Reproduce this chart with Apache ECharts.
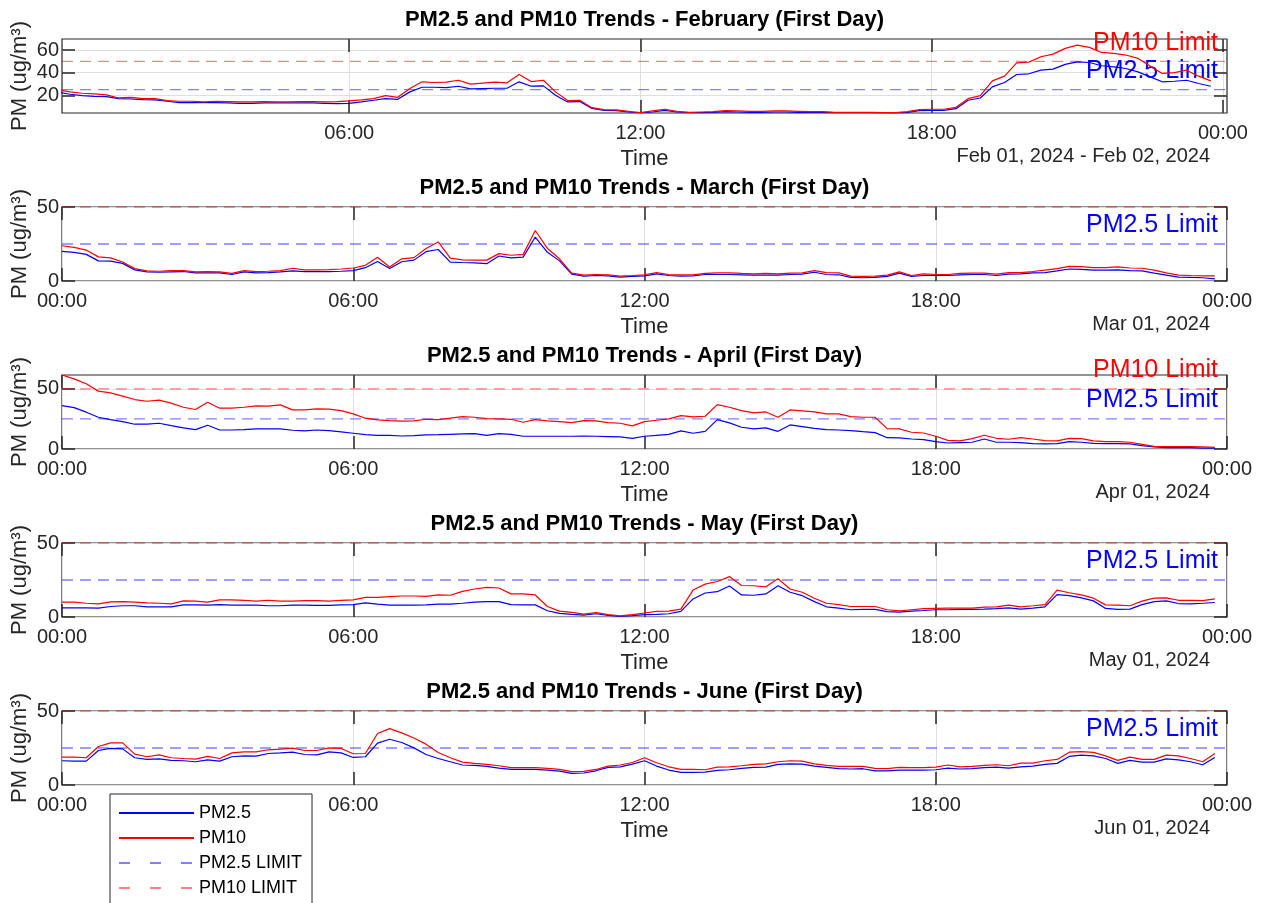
<!DOCTYPE html>
<html><head><meta charset="utf-8">
<script src="https://cdn.jsdelivr.net/npm/echarts@6/dist/echarts.min.js"></script>
<style>html,body{margin:0;padding:0;background:#fff}#c{width:1263px;height:903px}</style>
</head><body><div id="c"></div>
<script>
// sampling step of the measurements (hours): 15-minute data, 00:00 .. 23:45
const STEP_HOURS = 0.25;

const FEB_PM10 = [24.7,23.0,21.8,21.2,20.3,17.6,18.2,17.0,17.0,15.3,
 14.7,14.7,14.1,14.7,14.4,14.1,14.1,14.4,14.1,14.1,
 14.4,14.4,14.1,14.4,15.0,15.9,17.0,19.7,18.2,25.9,
 31.9,31.3,31.6,33.3,29.8,30.7,31.6,31.0,38.4,32.1,
 33.3,23.0,15.3,15.6,9.0,7.3,7.0,5.8,4.6,6.1,
 7.6,5.8,4.9,5.2,5.5,6.4,6.1,5.8,5.8,6.1,
 6.1,5.8,5.5,5.5,4.9,4.9,4.9,4.9,4.6,4.6,
 5.5,7.3,7.6,7.6,9.3,17.0,19.7,32.7,36.9,48.7,
 49.3,54.1,56.4,61.5,64.4,62.4,57.9,57.0,55.6,52.6,
 45.8,39.3,40.1,42.2,36.9,32.7];
const FEB_PM25 = [22.7,20.9,19.7,19.1,18.8,17.0,16.7,16.1,15.9,14.7,
 13.5,13.5,13.5,13.5,13.2,12.9,12.9,13.2,13.2,13.2,
 13.2,13.2,12.9,12.6,12.9,14.1,15.6,17.0,16.4,23.0,
 27.1,27.1,26.8,28.0,25.6,25.9,26.2,26.2,31.9,28.0,
 28.3,20.0,14.1,14.4,8.4,6.7,6.4,5.2,4.3,5.2,
 6.7,5.2,4.6,4.6,4.9,5.5,5.2,4.9,4.9,5.2,
 5.2,4.9,4.9,4.9,4.6,4.6,4.6,4.6,4.3,4.3,
 4.9,6.4,6.7,6.7,8.1,15.6,17.6,27.4,31.3,38.4,
 39.0,42.2,43.1,47.3,49.6,49.0,46.1,45.2,43.7,40.7,
 36.3,31.9,32.4,33.3,30.4,28.0];

const MAR_PM10 = [23.8,22.7,20.9,16.3,15.6,12.8,8.4,6.8,6.6,7.0,
 7.0,6.2,6.4,6.2,5.1,7.0,6.4,6.6,7.0,8.6,
 7.5,7.5,7.7,8.1,8.8,10.6,16.1,9.5,15.0,15.8,
 22.0,26.4,15.4,14.3,14.1,14.1,18.5,17.4,18.0,34.1,
 22.0,15.0,5.3,4.0,4.4,4.2,3.3,3.7,4.2,5.7,
 4.4,4.2,4.2,5.1,5.5,5.5,5.1,4.8,5.1,4.8,
 5.3,5.5,7.0,5.7,5.5,3.3,3.1,3.3,4.0,6.2,
 3.7,4.8,4.4,4.4,5.1,5.3,5.3,4.6,5.7,5.7,
 6.4,7.3,8.4,9.9,9.7,9.0,9.0,9.5,8.8,8.6,
 7.3,5.5,4.0,3.7,3.5,3.5];
const MAR_PM25 = [20.0,19.4,18.0,13.6,13.4,11.9,7.5,6.2,5.9,6.2,
 6.4,5.5,5.5,5.5,4.4,6.2,5.5,5.7,6.2,6.8,
 6.4,6.4,6.4,6.6,7.0,9.0,13.2,8.4,13.0,14.1,
 19.8,21.3,12.8,12.5,12.3,11.7,16.9,15.6,16.1,29.7,
 19.4,13.6,4.6,3.3,3.7,3.5,2.6,3.1,3.5,4.8,
 3.7,3.3,3.5,4.4,4.4,4.4,4.2,4.0,4.0,4.0,
 4.4,4.6,5.9,4.4,4.2,2.4,2.2,2.4,3.1,5.3,
 3.1,3.7,3.7,3.7,4.2,4.4,4.4,3.7,4.6,4.8,
 5.5,5.7,6.8,8.1,7.9,7.3,7.3,7.5,7.0,6.8,
 5.3,4.0,2.6,2.4,2.2,1.5];

const APR_PM10 = [61.5,58.3,54.2,48.1,46.7,43.9,41.1,39.7,40.6,38.1,
 34.7,32.8,38.9,33.9,33.9,34.7,35.8,35.6,36.7,32.5,
 32.5,33.3,33.1,31.9,29.2,25.6,24.2,23.6,23.1,23.3,
 24.7,24.4,25.6,26.9,26.4,25.3,25.0,24.7,22.2,24.4,
 23.3,22.8,21.9,23.6,23.3,21.9,21.4,19.2,22.8,23.9,
 25.0,27.8,26.7,27.2,36.9,34.7,31.9,30.0,30.8,26.4,
 32.5,31.7,30.8,29.2,29.2,26.9,26.4,26.4,16.9,16.7,
 13.9,13.3,10.6,7.2,6.7,8.6,11.4,8.9,8.1,9.4,
 8.3,6.9,6.7,8.9,8.6,6.7,6.1,6.1,5.6,3.9,
 2.2,1.9,1.9,1.9,1.7,1.4];
const APR_PM25 = [36.1,34.4,30.6,26.4,24.4,22.8,20.6,20.6,21.4,19.4,
 17.5,16.1,19.7,15.8,15.8,16.1,16.7,16.7,16.7,15.6,
 15.0,15.8,15.3,14.2,13.1,11.9,11.4,11.4,10.8,11.1,
 11.7,11.9,12.2,12.5,12.8,11.4,12.8,12.2,10.6,10.6,
 10.6,10.6,10.6,10.8,10.6,10.3,10.0,8.9,10.6,11.4,
 12.2,15.0,13.1,14.7,24.4,21.7,18.1,16.7,17.5,14.7,
 20.0,18.6,17.2,16.1,15.8,15.3,14.4,13.6,9.4,9.2,
 8.3,7.8,6.1,5.0,5.3,5.6,8.3,5.6,5.6,5.3,
 4.4,4.2,4.4,6.1,5.6,4.7,4.4,4.4,4.2,2.8,
 1.7,1.1,1.1,1.1,0.8,0.8];

const MAY_PM10 = [10.0,10.0,9.3,8.9,10.2,10.4,10.0,9.6,9.3,8.9,
 10.9,10.7,10.0,11.6,11.6,11.3,10.7,11.3,10.7,10.7,
 11.1,11.1,10.7,11.3,11.6,13.3,13.3,13.8,14.2,14.2,
 14.0,14.9,14.7,17.3,18.9,20.0,19.6,15.6,15.6,14.9,
 7.1,4.0,3.1,2.0,2.9,1.6,0.7,1.6,2.7,3.8,
 4.0,5.3,18.2,22.2,24.0,27.3,21.3,21.1,20.4,25.8,
 18.9,16.7,12.7,9.3,8.4,7.1,7.1,7.1,4.9,4.2,
 4.9,5.6,5.8,6.0,6.0,6.0,6.7,6.9,8.0,6.9,
 7.6,8.4,18.2,16.4,14.9,12.7,8.2,8.0,7.6,10.7,
 12.7,12.9,11.3,11.3,11.1,12.2];
const MAY_PM25 = [6.2,6.2,6.2,6.0,7.1,7.6,7.6,6.9,6.9,6.9,
 8.2,8.2,8.0,8.4,8.0,8.0,8.0,7.6,7.6,8.0,
 8.0,7.8,7.8,8.2,8.4,9.6,8.7,8.0,8.0,8.0,
 8.2,8.7,8.7,9.3,10.0,10.4,10.4,8.4,8.2,8.2,
 4.2,2.4,1.8,1.3,2.2,1.1,0.4,0.9,1.6,1.8,
 2.2,3.8,12.2,16.2,17.1,20.9,14.9,14.7,15.6,21.1,
 16.7,14.4,10.4,6.9,6.0,4.9,5.1,5.1,3.6,3.3,
 4.0,4.4,4.9,4.9,5.1,5.1,5.3,5.6,6.2,5.3,
 6.0,6.9,15.1,14.4,12.9,10.9,5.8,5.1,5.3,8.4,
 10.4,10.9,9.1,8.9,9.3,9.8];

const JUN_PM10 = [18.8,18.8,18.4,26.0,28.5,28.5,20.9,19.1,20.4,18.4,
 17.9,17.5,19.3,17.9,21.7,22.4,22.4,23.8,24.2,24.9,
 23.3,23.3,25.1,24.7,21.1,21.3,34.8,38.1,35.2,31.8,
 27.6,22.0,18.4,15.5,14.6,13.9,13.0,11.7,11.7,11.7,
 11.2,10.5,9.0,9.2,10.5,12.8,13.5,15.2,18.4,15.0,
 12.3,10.5,10.5,10.3,12.1,12.3,13.0,13.9,14.3,15.7,
 16.4,16.1,14.3,13.2,12.6,12.6,12.6,11.2,11.0,11.9,
 11.7,11.7,12.1,13.5,12.3,12.6,13.2,13.7,13.0,14.8,
 14.8,16.4,17.3,22.2,22.6,22.0,19.7,16.6,18.8,17.3,
 17.3,20.2,19.7,17.9,15.7,21.3];
const JUN_PM25 = [16.4,16.1,16.1,23.3,24.7,24.4,18.4,17.3,17.7,16.6,
 16.4,15.7,17.0,16.1,19.1,19.7,19.5,21.3,21.7,22.2,
 20.6,20.4,22.4,21.7,18.6,19.1,28.3,30.9,28.7,25.1,
 20.6,17.9,15.7,13.5,13.2,12.6,11.4,10.5,10.5,10.5,
 10.1,9.4,7.8,8.1,9.6,11.9,12.3,14.1,16.4,12.8,
 10.1,8.5,8.5,8.7,9.9,10.3,11.2,11.9,12.1,13.9,
 14.3,14.1,12.8,11.9,11.0,10.8,11.0,9.6,9.6,10.1,
 10.1,10.1,10.3,11.4,10.8,11.0,11.7,12.1,11.4,12.3,
 12.8,13.9,14.6,19.3,20.2,19.7,17.9,14.6,16.6,15.5,
 15.5,17.7,17.0,15.7,13.7,18.6];

const LIMIT_PM25 = 25;
const LIMIT_PM10 = 50;

const X_TICKS = [0, 6, 12, 18, 24];
const FEB_X_TICKS = [6, 12, 18, 24];
const Y_TICKS = [0, 50];
const FEB_Y_TICKS = [20, 40, 60];

const TITLES = [
  'PM2.5 and PM10 Trends - February (First Day)',
  'PM2.5 and PM10 Trends - March (First Day)',
  'PM2.5 and PM10 Trends - April (First Day)',
  'PM2.5 and PM10 Trends - May (First Day)',
  'PM2.5 and PM10 Trends - June (First Day)'
];
const DATE_LABELS = ['Feb 01, 2024 - Feb 02, 2024', 'Mar 01, 2024', 'Apr 01, 2024', 'May 01, 2024', 'Jun 01, 2024'];

const panels = [
  {pm25: FEB_PM25, pm10: FEB_PM10, xMin: 5/60, xMax: 24 + 5/60, xTicks: FEB_X_TICKS, yMin: 4.3, yMax: 69.8, yTicks: FEB_Y_TICKS, pm10Label: true},
  {pm25: MAR_PM25, pm10: MAR_PM10, xMin: 0, xMax: 24, xTicks: X_TICKS, yMin: 0, yMax: 50, yTicks: Y_TICKS, pm10Label: false},
  {pm25: APR_PM25, pm10: APR_PM10, xMin: 0, xMax: 24, xTicks: X_TICKS, yMin: 0, yMax: 61.5, yTicks: Y_TICKS, pm10Label: true},
  {pm25: MAY_PM25, pm10: MAY_PM10, xMin: 0, xMax: 24, xTicks: X_TICKS, yMin: 0, yMax: 50, yTicks: Y_TICKS, pm10Label: false},
  {pm25: JUN_PM25, pm10: JUN_PM10, xMin: 0, xMax: 24, xTicks: X_TICKS, yMin: 0, yMax: 50, yTicks: Y_TICKS, pm10Label: false}
];

const FONT = "'Liberation Sans', Arial, Helvetica, sans-serif";
const AX = '#262626';
const GRID_COLOR = '#dfdfdf';
const BLUE = '#0000ff', RED = '#ff0000';
const BLUE_DASH = 'rgba(0,0,255,0.5)', RED_DASH = 'rgba(255,0,0,0.5)';
const GRID_LEFT = 62, GRID_W = 1165, GRID_H = 74;
const GRID_TOPS = [39, 207, 375, 543, 711];

function hhmm(v) {
  const h = Math.round(v) % 24;
  return (h < 10 ? '0' : '') + h + ':00';
}

const option = {
  animation: false,
  backgroundColor: '#fff',
  title: [], grid: [], xAxis: [], yAxis: [], series: [],
  legend: {
    orient: 'vertical', left: 110, top: 794, height: 200,
    padding: [10, 10, 30, 8],
    itemWidth: 75, itemHeight: 14, itemGap: 7,
    borderColor: AX, borderWidth: 1, borderRadius: 0, backgroundColor: '#fff',
    itemStyle: {opacity: 0, borderWidth: 0},
    textStyle: {fontSize: 18, color: '#000', fontFamily: FONT},
    data: [
      {name: 'PM2.5'},
      {name: 'PM10'},
      {name: 'PM2.5 LIMIT', lineStyle: {type: [11, 20]}},
      {name: 'PM10 LIMIT', lineStyle: {type: [11, 20]}}
    ]
  }
};

panels.forEach((p, k) => {
  const top = GRID_TOPS[k];
  option.title.push({
    text: TITLES[k], left: GRID_LEFT + GRID_W / 2, top: top - 30, textAlign: 'center', padding: 0,
    textStyle: {fontSize: 22, fontWeight: 'bold', color: '#000', fontFamily: FONT}
  });
  option.title.push({
    text: DATE_LABELS[k], right: 53, top: top + GRID_H + 33, padding: 0,
    textStyle: {fontSize: 20, fontWeight: 'normal', color: AX, fontFamily: FONT}
  });
  option.grid.push({left: GRID_LEFT, top: top, width: GRID_W, height: GRID_H, show: true,
    borderColor: AX, borderWidth: 1.2, backgroundColor: 'transparent',
    outerBoundsMode: 'none', containLabel: false});

  const tickStyle = {color: AX, width: 1.5};
  option.xAxis.push({
    gridIndex: k, type: 'value', position: 'bottom', min: p.xMin, max: p.xMax,
    axisLine: {show: false, onZero: false},
    axisTick: {show: true, inside: true, length: 13, customValues: p.xTicks, lineStyle: tickStyle},
    axisLabel: {show: true, customValues: p.xTicks, formatter: hhmm, fontSize: 20, color: AX, fontFamily: FONT, margin: 10},
    splitLine: {show: true, lineStyle: {color: GRID_COLOR, width: 1}},
    name: 'Time', nameLocation: 'middle', nameGap: 35, nameMoveOverlap: false,
    nameTextStyle: {fontSize: 22, color: AX, fontFamily: FONT}
  });
  option.xAxis.push({
    gridIndex: k, type: 'value', position: 'top', min: p.xMin, max: p.xMax,
    axisLine: {show: false, onZero: false},
    axisTick: {show: true, inside: true, length: 13, customValues: p.xTicks, lineStyle: tickStyle},
    axisLabel: {show: false}, splitLine: {show: false}
  });
  option.yAxis.push({
    gridIndex: k, type: 'value', position: 'left', min: p.yMin, max: p.yMax,
    axisLine: {show: false, onZero: false},
    axisTick: {show: true, inside: true, length: 13, customValues: p.yTicks, lineStyle: tickStyle},
    axisLabel: {show: true, customValues: p.yTicks, fontSize: 20, color: AX, fontFamily: FONT, margin: 3},
    splitLine: {show: true, lineStyle: {color: GRID_COLOR, width: 1}},
    name: 'PM (ug/m³)', nameLocation: 'middle', nameGap: 31, nameRotate: 90, nameMoveOverlap: false,
    nameTextStyle: {fontSize: 22, color: AX, fontFamily: FONT}
  });
  option.yAxis.push({
    gridIndex: k, type: 'value', position: 'right', min: p.yMin, max: p.yMax,
    axisLine: {show: false, onZero: false},
    axisTick: {show: true, inside: true, length: 13, customValues: p.yTicks, lineStyle: tickStyle},
    axisLabel: {show: false}, splitLine: {show: false}
  });

  const xi = 2 * k, yi = 2 * k;
  const toPts = arr => arr.map((v, i) => [i * STEP_HOURS, v]);
  option.series.push({
    type: 'line', name: 'PM2.5', xAxisIndex: xi, yAxisIndex: yi, data: toPts(p.pm25),
    symbol: 'none', clip: true, lineStyle: {color: BLUE, width: 1.2}, itemStyle: {color: BLUE}, z: 3
  });
  option.series.push({
    type: 'line', name: 'PM10', xAxisIndex: xi, yAxisIndex: yi, data: toPts(p.pm10),
    symbol: 'none', clip: true, lineStyle: {color: RED, width: 1.2}, itemStyle: {color: RED}, z: 3
  });
  const endLab = (txt, col) => ({
    show: true, formatter: txt, align: 'right', verticalAlign: 'bottom', distance: -9,
    padding: [0, 0, 6, 0], fontSize: 25, color: col, fontFamily: FONT, valueAnimation: false
  });
  option.series.push({
    type: 'line', name: 'PM2.5 LIMIT', xAxisIndex: xi, yAxisIndex: yi,
    data: [[p.xMin, LIMIT_PM25], [p.xMax, LIMIT_PM25]],
    symbol: 'none', clip: true, lineStyle: {color: BLUE_DASH, width: 1.3, type: [11, 7]}, itemStyle: {color: BLUE_DASH}, z: 2,
    endLabel: endLab('PM2.5 Limit', BLUE)
  });
  option.series.push({
    type: 'line', name: 'PM10 LIMIT', xAxisIndex: xi, yAxisIndex: yi,
    data: [[p.xMin, LIMIT_PM10], [p.xMax, LIMIT_PM10]],
    symbol: 'none', clip: true, lineStyle: {color: RED_DASH, width: 1.3, type: [11, 7]}, itemStyle: {color: RED_DASH}, z: 2,
    endLabel: p.pm10Label ? endLab('PM10 Limit', RED) : {show: false}
  });
});

const chart = echarts.init(document.getElementById('c'), null, {renderer: 'canvas'});
chart.setOption(option);
</script></body></html>
